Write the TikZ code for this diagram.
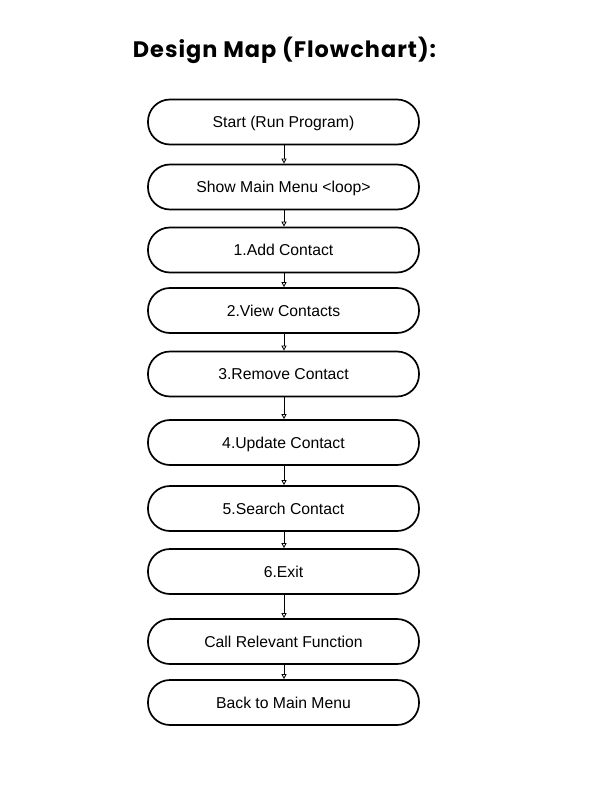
\documentclass[tikz,border=0pt]{standalone}
\usepackage{fontspec}
\setmainfont{Liberation Sans}
\newfontfamily\titlefont{Poppins}[UprightFont=* Bold, LetterSpace=4.5]
\usetikzlibrary{arrows.meta}
\begin{document}
\begin{tikzpicture}[x=1bp,y=-1bp,
  flowbox/.style={draw=black, line width=1.7bp, rounded corners=22bp,
    minimum width=271bp, minimum height=45bp, inner sep=0pt,
    text height=11bp, text depth=0pt, font=\fontsize{15.8}{18}\selectfont},
  flowarrow/.style={line width=0.8bp, -{Triangle[open,length=5bp,width=5bp]}}]
\useasboundingbox (0,0) rectangle (612,792);
\node[anchor=base, font=\titlefont\fontsize{22.5}{26}\selectfont] (title) at (284.5,57.5) {Design Map (Flowchart):};
\node[flowbox] (b1) at (283.5,122) {Start (Run Program)};
\node[flowbox] (b2) at (283.5,187) {Show Main Menu <loop>};
\node[flowbox] (b3) at (283.5,250) {1.Add Contact};
\node[flowbox] (b4) at (283.5,310.5) {2.View Contacts};
\node[flowbox] (b5) at (283.5,374) {3.Remove Contact};
\node[flowbox] (b6) at (283.5,442.5) {4.Update Contact};
\node[flowbox] (b7) at (283.5,508.5) {5.Search Contact};
\node[flowbox] (b8) at (283.5,571.5) {6.Exit};
\node[flowbox] (b9) at (283.5,641.5) {Call Relevant Function};
\node[flowbox] (b10) at (283.5,702.5) {Back to Main Menu};
\foreach \a/\b in {b1/b2,b2/b3,b3/b4,b4/b5,b5/b6,b6/b7,b7/b8,b8/b9,b9/b10}
  \draw[flowarrow] ([xshift=0.5bp]\a.south) -- ([xshift=0.5bp]\b.north);
\end{tikzpicture}
\end{document}
